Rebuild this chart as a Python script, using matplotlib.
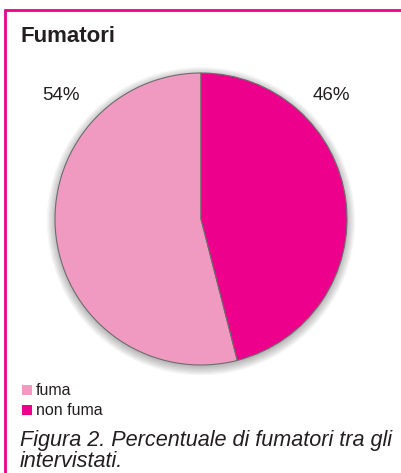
import matplotlib.pyplot as plt
from matplotlib.patches import Rectangle, Circle

# data
labels = ['fuma', 'non fuma']
values = [54, 46]
colors = ['#F19AC1', '#EC008C']
pct_labels = ['54%', '46%']

W, H = 401, 473
fig = plt.figure(figsize=(W / 100, H / 100), dpi=100)
plt.rcParams['font.family'] = ['Liberation Sans', 'DejaVu Sans']


def fx(px):
    return px / W


def fy(py):
    return 1 - py / H


# magenta frame running off right and bottom edges
fig.patches.append(Rectangle((fx(5), fy(500)), 1.2, fy(10.5) - fy(500),
                             transform=fig.transFigure, fill=False,
                             edgecolor='#EC008C', linewidth=2.0))

fig.text(fx(20), fy(37), 'Fumatori', fontsize=16, fontweight='bold',
         color='#231F20', va='center', ha='left')

# pie
cx, cy, r = 201, 219, 146
ax = fig.add_axes([fx(cx - r - 10), fy(cy + r + 10), (2 * r + 20) / W, (2 * r + 20) / H])

# soft shadow
for i in range(8):
    ax.add_patch(Circle((0, -0.015), 1.0 + 0.008 * i, color='#000000',
                        alpha=0.035, linewidth=0, zorder=0))

wedges, _ = ax.pie(values, colors=colors, startangle=90, counterclock=True,
                   radius=1.0, wedgeprops=dict(edgecolor='#6d6d6d', linewidth=0.8))
for w in wedges:
    w.set_zorder(2)

lim = 1.0 + 10 / r
ax.set_xlim(-lim, lim)
ax.set_ylim(-lim, lim)
ax.set_aspect('equal')
ax.axis('off')

fig.text(fx(61), fy(96), pct_labels[0], fontsize=13.5, color='#231F20', ha='center', va='center')
fig.text(fx(331), fy(96), pct_labels[1], fontsize=13.5, color='#231F20', ha='center', va='center')

# legend
for i, (lab, col) in enumerate(zip(labels, colors)):
    y = 390 + i * 20
    fig.patches.append(Rectangle((fx(22), fy(y + 5)), 10 / W, 10 / H,
                                 transform=fig.transFigure, facecolor=col, edgecolor='none'))
    fig.text(fx(36), fy(y), lab, fontsize=11.5, color='#231F20', ha='left', va='center')

# caption
fig.text(fx(20), fy(446), 'Figura 2. Percentuale di fumatori tra gli', fontsize=15.6,
         style='italic', color='#231F20', ha='left', va='baseline')
fig.text(fx(20), fy(467), 'intervistati.', fontsize=15.6,
         style='italic', color='#231F20', ha='left', va='baseline')

fig.savefig('out.png', dpi=100)
